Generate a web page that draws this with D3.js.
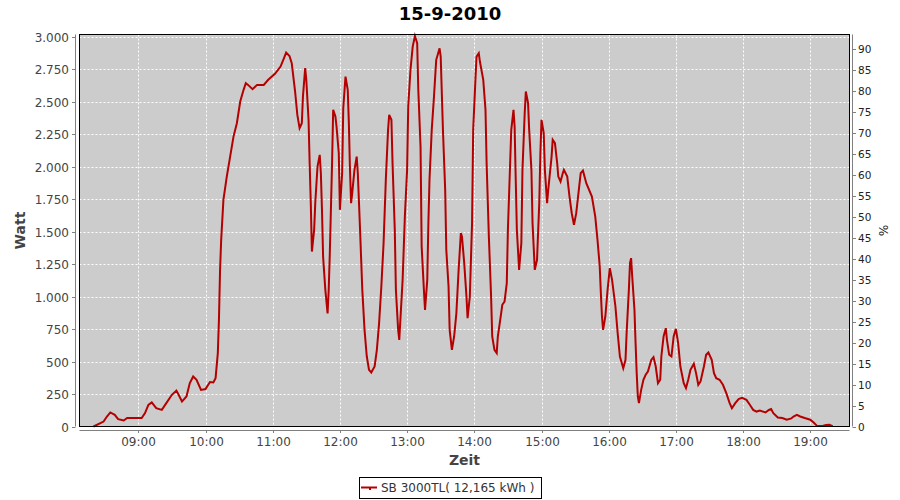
<!DOCTYPE html>
<html><head><meta charset="utf-8">
<script src="https://cdn.jsdelivr.net/npm/d3@7"></script>
<style>body{margin:0;background:#fff}svg{display:block}</style>
</head><body><svg id="c" width="900" height="500"></svg>
<script>
const chartTitle = "15-9-2010";
const seriesLabel = "SB 3000TL( 12,165 kWh )";
const xLabel = "Zeit", yLabel = "Watt", y2Label = "%";
const times = ["08:20","08:29","08:32","08:35","08:39","08:42","08:47","08:50","09:03","09:06","09:09","09:12","09:16","09:21","09:25","09:30","09:34","09:36","09:39","09:43","09:46","09:49","09:52","09:56","10:00","10:04","10:07","10:09","10:11","10:12","10:13","10:14","10:16","10:19","10:22","10:25","10:28","10:31","10:34","10:36","10:38","10:42","10:46","10:52","10:56","11:02","11:07","11:10","11:12","11:15","11:17","11:20","11:22","11:24","11:26","11:27","11:29","11:30","11:32","11:33","11:34","11:35","11:37","11:38","11:40","11:42","11:43","11:44","11:45","11:47","11:49","11:50","11:51","11:53","11:54","11:56","11:57","11:59","12:00","12:02","12:03","12:05","12:07","12:08","12:09","12:10","12:11","12:13","12:15","12:16","12:18","12:20","12:22","12:24","12:26","12:28","12:31","12:33","12:35","12:37","12:39","12:41","12:43","12:44","12:46","12:47","12:49","12:50","12:52","12:53","12:54","12:56","12:58","13:00","13:01","13:03","13:05","13:07","13:09","13:10","13:12","13:13","13:15","13:16","13:18","13:19","13:20","13:22","13:24","13:26","13:29","13:30","13:32","13:34","13:35","13:37","13:38","13:40","13:42","13:44","13:46","13:48","13:49","13:51","13:53","13:54","13:56","13:58","13:59","14:01","14:02","14:04","14:05","14:08","14:10","14:11","14:13","14:15","14:16","14:18","14:20","14:21","14:24","14:25","14:27","14:29","14:30","14:32","14:33","14:35","14:36","14:37","14:38","14:40","14:42","14:43","14:45","14:46","14:48","14:49","14:51","14:52","14:54","14:56","14:58","14:59","15:00","15:02","15:03","15:05","15:06","15:09","15:10","15:12","15:14","15:15","15:17","15:19","15:20","15:23","15:25","15:27","15:29","15:31","15:33","15:35","15:37","15:40","15:45","15:48","15:50","15:52","15:53","15:54","15:55","15:57","15:59","16:01","16:03","16:06","16:08","16:10","16:13","16:15","16:16","16:18","16:19","16:20","16:21","16:23","16:24","16:25","16:26","16:27","16:29","16:31","16:33","16:35","16:38","16:40","16:42","16:44","16:46","16:47","16:49","16:51","16:52","16:54","16:56","16:58","17:00","17:02","17:04","17:07","17:09","17:11","17:13","17:16","17:18","17:20","17:22","17:25","17:27","17:29","17:32","17:34","17:36","17:39","17:42","17:45","17:48","17:50","17:53","17:56","17:59","18:03","18:06","18:09","18:12","18:15","18:20","18:23","18:25","18:27","18:31","18:35","18:39","18:43","18:45","18:48","18:51","18:55","19:00","19:03","19:06","19:10","19:14","19:17","19:20"];
const watts = [0,38,77,108,90,57,46,65,65,103,167,185,141,128,180,244,277,244,192,231,334,385,360,282,288,342,339,372,565,821,1206,1437,1745,1924,2078,2232,2335,2502,2592,2643,2630,2597,2630,2630,2669,2715,2771,2835,2879,2853,2797,2579,2399,2297,2335,2540,2759,2669,2361,2027,1720,1347,1514,1720,2001,2091,1950,1668,1308,1052,870,1052,1335,2027,2438,2386,2309,2104,1668,1950,2450,2694,2592,2335,1976,1720,1796,1976,2078,1950,1514,1052,744,539,436,416,462,590,796,1078,1412,1899,2284,2399,2361,2027,1514,1052,744,667,821,1129,1616,1976,2463,2745,2925,3007,2951,2592,2155,1385,1052,898,1129,1566,1899,2284,2540,2823,2912,2848,2284,1822,1360,1078,744,590,693,873,1206,1489,1462,1258,1001,834,1001,1566,2284,2669,2848,2874,2810,2669,2438,2027,1462,1001,693,590,565,693,873,937,962,1104,1514,2027,2284,2438,2309,1899,1514,1206,1412,1976,2412,2579,2489,2284,1976,1566,1206,1283,1720,2104,2361,2258,1976,1720,1822,2078,2207,2181,2027,1924,1886,1950,1976,1924,1770,1642,1552,1642,1796,1950,1970,1873,1770,1616,1437,1232,1027,847,744,847,1052,1219,1129,924,719,539,449,513,719,1052,1258,1296,1155,898,642,411,231,180,282,360,398,423,513,534,462,334,360,539,693,757,667,552,539,693,752,642,462,334,296,360,436,483,411,321,347,462,552,570,513,411,372,360,321,257,180,141,180,211,221,205,167,128,115,123,108,128,134,103,69,65,52,62,77,90,77,65,52,31,5,3,11,13,3];
const wattTicks = d3.range(0, 3001, 250);
const pctTicks = d3.range(0, 91, 5);
const xRange = ["08:07:30", "19:35:00"];
const wattMax = 3018, pctMax = 93.5;

const day = "2010-09-15T";
const parse = s => new Date(day + (s.length === 5 ? s + ":00" : s));
const L = 79.5, R = 849.5, T = 34.5, B = 426.5;
const FONT = "DejaVu Sans";
const svg = d3.select("#c");
const de = d3.formatLocale({decimal: ",", thousands: ".", grouping: [3], currency: ["", "€"]});
const fmtW = de.format(",d");

const x = d3.scaleTime().domain(xRange.map(parse)).range([L, R]);
const y = d3.scaleLinear().domain([0, wattMax]).range([B, T]);
const y2 = d3.scaleLinear().domain([0, pctMax]).range([B, T]);
const hourTicks = x.ticks(d3.timeHour.every(1));

// plot background
svg.append("rect").attr("x", L).attr("y", T).attr("width", R - L).attr("height", B - T).attr("fill", "#cccccc");
// grid
const g = svg.append("g").attr("stroke", "#ffffff").attr("stroke-width", 1).attr("stroke-dasharray", "2,2");
wattTicks.forEach(v => { const yy = Math.round(y(v)) + 0.5; if (v > 0) g.append("line").attr("x1", L).attr("x2", R).attr("y1", yy).attr("y2", yy); });
hourTicks.forEach(t => { const xx = Math.round(x(t)) + 0.5; g.append("line").attr("x1", xx).attr("x2", xx).attr("y1", T).attr("y2", B); });

// data line
const data = d3.range(Math.min(times.length, watts.length)).map(i => ({t: parse(times[i]), w: watts[i]}));
svg.append("path").datum(data)
  .attr("d", d3.line().x(d => x(d.t)).y(d => y(d.w)))
  .attr("fill", "none").attr("stroke", "#b40000").attr("stroke-width", 2).attr("stroke-linejoin", "miter");

// plot border
svg.append("rect").attr("x", L).attr("y", T).attr("width", R - L).attr("height", B - T).attr("fill", "none").attr("stroke", "#000").attr("stroke-width", 1);

// left axis
const axG = svg.append("g").attr("stroke", "#808080").attr("stroke-width", 1);
axG.append("line").attr("x1", 75.5).attr("x2", 75.5).attr("y1", T).attr("y2", B);
wattTicks.forEach(v => {
  const yy = Math.round(y(v)) + 0.5;
  axG.append("line").attr("x1", 72).attr("x2", 75.5).attr("y1", yy).attr("y2", yy);
  svg.append("text").attr("x", 69).attr("y", yy).attr("dy", "0.36em").attr("text-anchor", "end")
    .attr("font-family", FONT).attr("font-size", 12).attr("fill", "#444").text(fmtW(v));
});
// right axis
axG.append("line").attr("x1", 852.5).attr("x2", 852.5).attr("y1", T).attr("y2", B);
pctTicks.forEach(v => {
  const yy = Math.round(y2(v)) + 0.5;
  axG.append("line").attr("x1", 852.5).attr("x2", 856).attr("y1", yy).attr("y2", yy);
  svg.append("text").attr("x", 858).attr("y", yy).attr("dy", "0.36em").attr("text-anchor", "start")
    .attr("font-family", FONT).attr("font-size", 10.5).attr("fill", "#222").text(v);
});
// bottom axis
axG.append("line").attr("x1", L).attr("x2", R).attr("y1", 430.5).attr("y2", 430.5);
hourTicks.forEach(t => {
  const xx = Math.round(x(t)) + 0.5;
  axG.append("line").attr("x1", xx).attr("x2", xx).attr("y1", 430.5).attr("y2", 433);
  svg.append("text").attr("x", xx).attr("y", 446).attr("text-anchor", "middle")
    .attr("font-family", FONT).attr("font-size", 12).attr("fill", "#444").text(d3.timeFormat("%H:%M")(t));
});

// labels
svg.append("text").attr("x", 450).attr("y", 19.5).attr("text-anchor", "middle")
  .attr("font-family", FONT).attr("font-weight", "bold").attr("font-size", 18).attr("fill", "#000").text(chartTitle);
svg.append("text").attr("x", (L + R) / 2).attr("y", 465).attr("text-anchor", "middle")
  .attr("font-family", FONT).attr("font-weight", "bold").attr("font-size", 14).attr("fill", "#444").text(xLabel);
svg.append("text").attr("transform", `translate(25,${(T + B) / 2}) rotate(-90)`).attr("text-anchor", "middle")
  .attr("font-family", FONT).attr("font-weight", "bold").attr("font-size", 14).attr("fill", "#444").text(yLabel);
svg.append("text").attr("transform", `translate(879,${(T + B) / 2}) rotate(90)`).attr("text-anchor", "middle")
  .attr("font-family", FONT).attr("font-size", 12).attr("fill", "#222").text(y2Label);

// legend
const lg = svg.append("g");
lg.append("rect").attr("x", 359.5).attr("y", 477.5).attr("width", 182).attr("height", 21).attr("fill", "#fff").attr("stroke", "#000");
lg.append("line").attr("x1", 361).attr("x2", 377).attr("y1", 487.5).attr("y2", 487.5).attr("stroke", "#b40000").attr("stroke-width", 2);
lg.append("rect").attr("x", 369).attr("y", 487).attr("width", 2).attr("height", 3).attr("fill", "#b40000");
lg.append("text").attr("x", 381).attr("y", 492).attr("font-family", FONT).attr("font-size", 12).attr("fill", "#333").text(seriesLabel);
</script></body></html>
